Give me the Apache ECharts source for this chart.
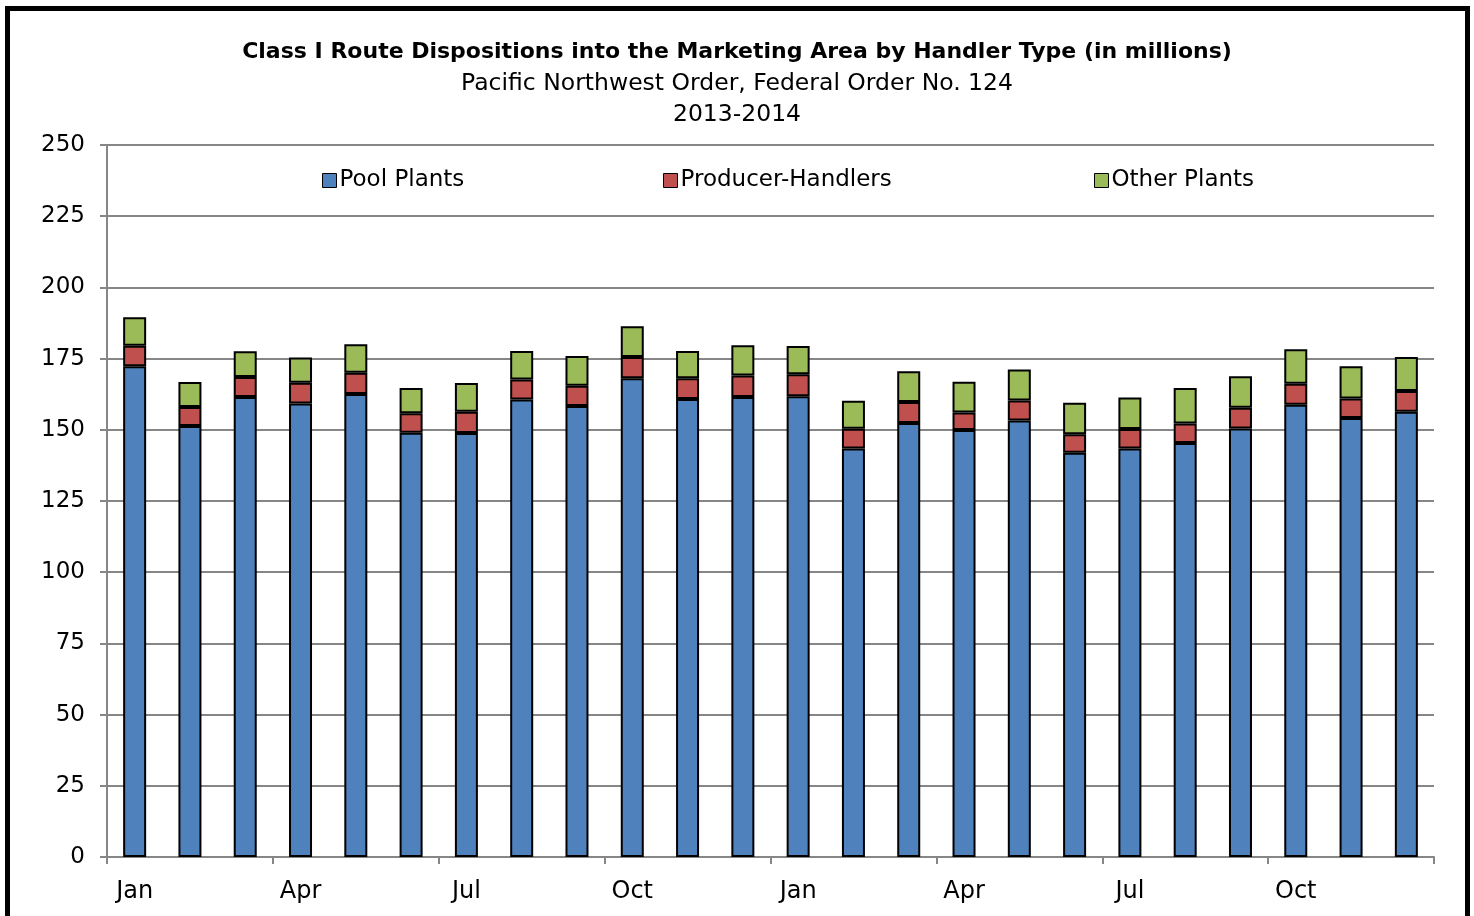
<!DOCTYPE html>
<html>
<head>
<meta charset="utf-8">
<script src="https://cdn.jsdelivr.net/npm/echarts@6/dist/echarts.min.js"></script>
<style>
html,body{margin:0;padding:0;background:#fff;overflow:hidden;}
#frame{position:absolute;left:5px;top:6px;width:1455px;height:930px;border:5px solid #000;box-sizing:content-box;}
#chart{position:absolute;left:0;top:0;width:1474px;height:916px;}
</style>
</head>
<body>
<div id="frame"></div>
<div id="chart"></div>
<script>
const months = ['Jan','Feb','Mar','Apr','May','Jun','Jul','Aug','Sep','Oct','Nov','Dec',
                'Jan','Feb','Mar','Apr','May','Jun','Jul','Aug','Sep','Oct','Nov','Dec'];
const poolPlants = [172.3,151.3,161.5,159.2,162.6,149.0,148.9,160.6,158.4,168.1,160.8,161.5,
                    161.8,143.4,152.4,149.9,153.3,141.9,143.4,145.4,150.5,158.8,154.1,156.3];
const producerHandlers = [7.2,6.7,7.0,7.3,7.4,6.8,7.4,7.1,7.1,7.5,7.3,7.6,
                          7.7,7.0,7.4,6.2,7.0,6.5,6.9,6.8,7.2,7.4,6.9,7.3];
const otherPlants = [10.0,8.8,9.1,8.9,10.0,8.9,10.1,10.0,10.4,10.8,9.6,10.6,
                     9.9,9.8,10.8,10.8,10.9,11.1,11.0,12.5,11.1,12.1,11.3,12.0];
const yTicks = [0,25,50,75,100,125,150,175,200,225,250];

const FONT = 'DejaVu Sans';
const chart = echarts.init(document.getElementById('chart'), null, {renderer:'canvas'});
const barStyle = c => ({color:c, borderColor:'#000', borderWidth:2});
const legendCommon = {
  top: 164, itemWidth: 14, itemHeight: 14, itemGap: 4,
  textStyle:{fontFamily:FONT, fontSize:23, color:'#000', padding:[0,0,0,-2]},
  icon:'rect', itemStyle:{borderColor:'#000', borderWidth:1}
};
chart.setOption({
  animation:false,
  backgroundColor:'transparent',
  title:[
    {text:'Class I Route Dispositions into the Marketing Area by Handler Type (in millions)', left:'center', top:36,
     textStyle:{fontFamily:FONT, fontSize:22, fontWeight:'bold', color:'#000'}},
    {text:'Pacific Northwest Order, Federal Order No. 124', left:'center', top:67,
     textStyle:{fontFamily:FONT, fontSize:23.5, fontWeight:'normal', color:'#000'}},
    {text:'2013-2014', left:'center', top:98,
     textStyle:{fontFamily:FONT, fontSize:23.5, fontWeight:'normal', color:'#000'}}
  ],
  legend:[
    Object.assign({left:317, data:['Pool Plants']}, legendCommon),
    Object.assign({left:658, data:['Producer-Handlers']}, legendCommon),
    Object.assign({left:1089, data:['Other Plants']}, legendCommon)
  ],
  grid:{left:107, right:40, top:145, bottom:59, containLabel:false},
  xAxis:{
    type:'category', data:months, boundaryGap:true,
    axisLine:{lineStyle:{color:'#868686', width:2}},
    axisTick:{show:true, length:7, interval:(i)=>i%3===0, lineStyle:{color:'#868686', width:2}},
    axisLabel:{interval:(i)=>i%3===0, fontFamily:FONT, fontSize:24, color:'#000', margin:23}
  },
  yAxis:{
    type:'value', min:0, max:250, interval:25,
    axisLine:{show:true, lineStyle:{color:'#868686', width:2}},
    axisTick:{show:true, length:7, lineStyle:{color:'#868686', width:2}},
    axisLabel:{fontFamily:FONT, fontSize:23, color:'#000', margin:22},
    splitLine:{lineStyle:{color:'#868686', width:2}}
  },
  series:[
    {name:'Pool Plants', type:'bar', stack:'a', data:poolPlants, barWidth:23, itemStyle:barStyle('#4F81BD')},
    {name:'Producer-Handlers', type:'bar', stack:'a', data:producerHandlers, barWidth:23, itemStyle:barStyle('#C0504D')},
    {name:'Other Plants', type:'bar', stack:'a', data:otherPlants, barWidth:23, itemStyle:barStyle('#9BBB59')}
  ]
});
</script>
</body>
</html>
